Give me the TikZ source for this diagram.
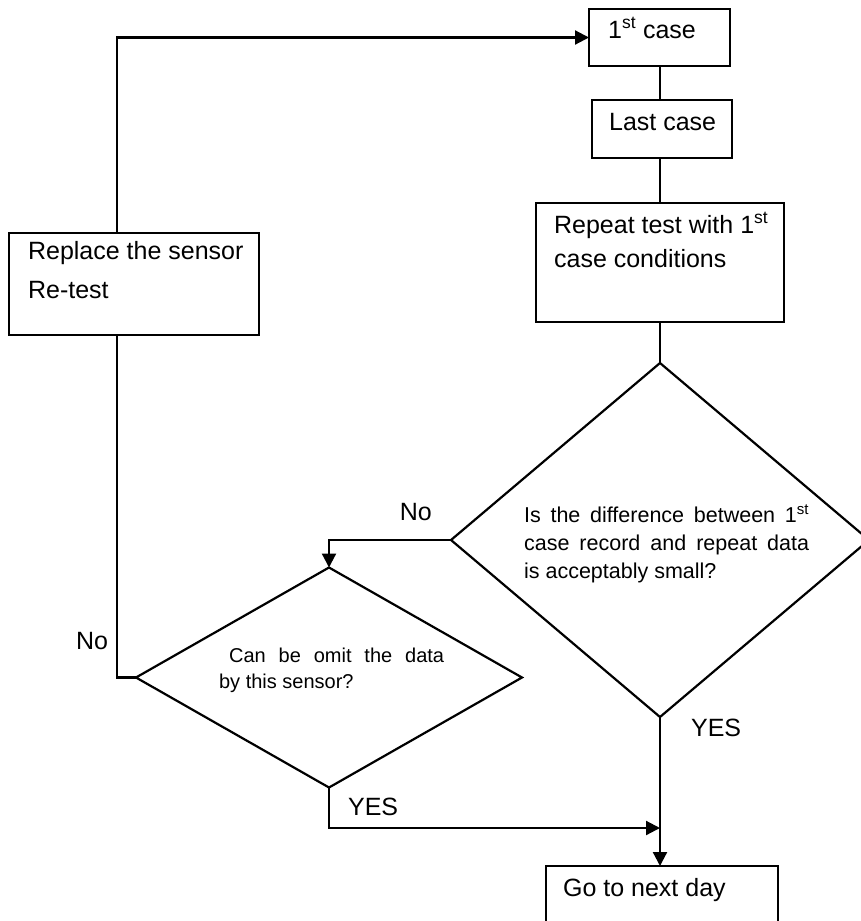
\documentclass[tikz,border=0pt]{standalone}
\usepackage{fontspec}
\setmainfont{Liberation Sans}
\usetikzlibrary{arrows.meta,shapes.geometric}
\begin{document}
\begin{tikzpicture}[x=1pt,y=-1pt,
  line width=2.2pt,
  boxnode/.style={draw,rectangle,anchor=north west,inner sep=0pt,outer sep=0pt},
  decision/.style={draw,diamond,inner sep=0pt,outer sep=0pt},
  bigtxt/.style={anchor=base west,inner sep=0pt,font=\fontsize{25}{30}\selectfont},
  qtxt/.style={anchor=base west,inner sep=0pt,font=\fontsize{21.5}{26}\selectfont},
  stxt/.style={anchor=base west,inner sep=0pt,font=\fontsize{20}{24}\selectfont},
  arr/.style={-{Triangle[length=14pt,width=14pt]}}
]
\path[use as bounding box] (0,0) rectangle (861,921);
\fill[white] (0,0) rectangle (861,921);
\clip (0,0) rectangle (861,921);

% column and helper coordinates
\coordinate (col) at (660,0);
\coordinate (rl) at (117,0);
\coordinate (yesy) at (0,828);

% boxes
\node[boxnode,minimum width=141pt,minimum height=57pt] (first) at (589,9) {};
\node[boxnode,minimum width=140pt,minimum height=58pt] (last) at (592,100) {};
\node[boxnode,minimum width=248pt,minimum height=119pt] (repeat) at (536,203) {};
\node[boxnode,minimum width=250pt,minimum height=102pt] (replace) at (9,233) {};
\node[boxnode,minimum width=232pt,minimum height=90pt] (gonext) at (546,866) {};

% decisions
\node[decision,minimum width=418pt,minimum height=354pt] (bigd) at (660,540) {};
\node[decision,minimum width=386pt,minimum height=220pt] (smalld) at (329,677.5) {};

% texts
\node[bigtxt] (t1) at (607,38) {1\textsuperscript{st} case};
\node[bigtxt] (t2) at (608,130) {Last case};
\node[bigtxt] (t3a) at (553,233) {Repeat test with 1\textsuperscript{st}};
\node[bigtxt] (t3b) at (553,267) {case conditions};
\node[bigtxt] (t4a) at (27,259) {Replace the sensor};
\node[bigtxt] (t4b) at (27,298) {Re-test};
\node[bigtxt] (t5) at (562,896) {Go to next day};

\node[qtxt] (q1) at (523,522) {\makebox[285pt][s]{Is the difference between 1\textsuperscript{st}}};
\node[qtxt] (q2) at (523,550) {\makebox[285pt][s]{case record and repeat data}};
\node[qtxt] (q3) at (523,578) {is acceptably small?};

\node[stxt] (s1) at (228,662) {\makebox[215pt][s]{Can be omit the data}};
\node[stxt] (s2) at (218,688) {by this sensor?};

% labels
\node[bigtxt,anchor=base east] (no1) at (433,520) {No};
\node[bigtxt] (no2) at (75,649) {No};
\node[bigtxt] (yes1) at (690,736) {YES};
\node[bigtxt] (yes2) at (347,815) {YES};

% connectors
\draw (col |- first.south) -- (col |- last.north);
\draw (col |- last.south) -- (col |- repeat.north);
\draw (col |- repeat.south) -- (bigd.north);
\draw[arr] (bigd.south) -- (bigd.south |- gonext.north);
\draw[arr] (bigd.west) -- (smalld.north |- bigd.west) -- (smalld.north);
\draw (smalld.west) -- (smalld.west -| rl) -- (rl |- replace.south);
\draw[arr] (rl |- replace.north) -- (rl |- first.west) -- (first.west);
\draw[arr] (smalld.south) -- (smalld.south |- yesy) -- (col |- yesy);
\end{tikzpicture}
\end{document}
